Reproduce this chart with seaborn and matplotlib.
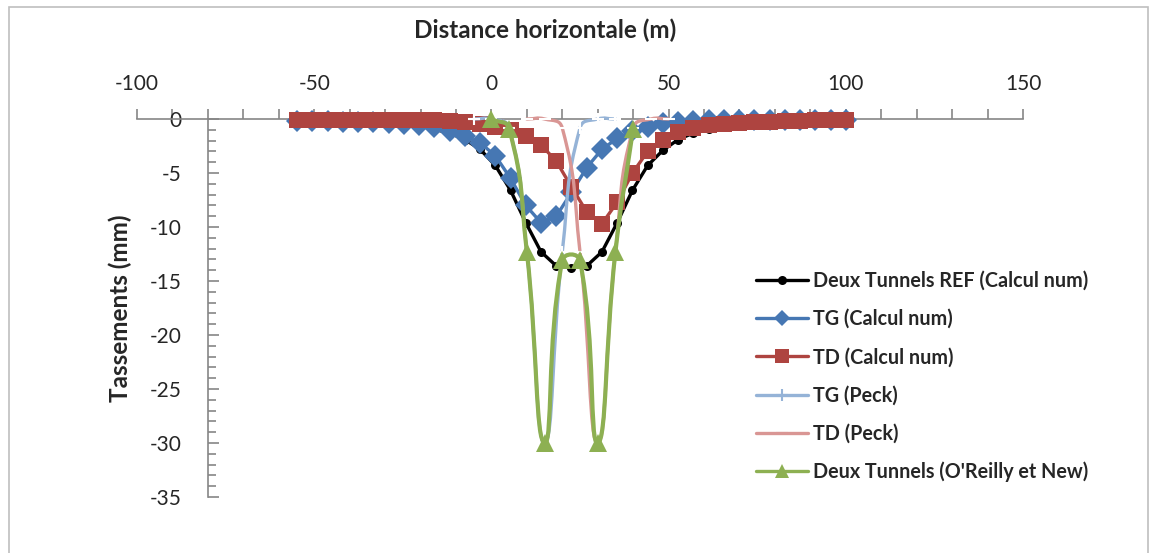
import numpy as np
import matplotlib
matplotlib.use("Agg")
import matplotlib.pyplot as plt
import seaborn as sns
import pandas as pd
from matplotlib.path import Path
from matplotlib.patches import PathPatch, Rectangle
from matplotlib.lines import Line2D
from matplotlib.ticker import MultipleLocator, FuncFormatter

# abscisses du calcul numerique (m)
x_num = [-54.8, -50.5, -46.2, -41.9, -37.6, -33.3, -29.0, -24.7, -20.4, -16.1,
         -11.8, -7.5, -3.2, 1.1, 5.4, 9.7, 14.0, 18.3, 22.6, 26.9,
         31.2, 35.5, 39.8, 44.1, 48.4, 52.7, 57.0, 61.3, 65.6, 69.9,
         74.2, 78.5, 82.8, 87.1, 91.4, 95.7, 100.0]

# tassements (mm)
ref_num = [-0.15, -0.15, -0.2, -0.2, -0.25, -0.3, -0.35, -0.45, -0.65, -0.95,
           -1.3, -1.9, -2.8, -4.3, -6.6, -9.6, -12.3, -13.6, -13.8, -13.6,
           -12.3, -9.6, -6.6, -4.3, -2.9, -1.9, -1.3, -0.9, -0.65, -0.5,
           -0.4, -0.3, -0.25, -0.2, -0.15, -0.15, -0.1]
tg_num = [-0.2, -0.2, -0.2, -0.25, -0.25, -0.3, -0.35, -0.45, -0.55, -0.75,
          -1.1, -1.6, -2.2, -3.4, -5.5, -8.0, -9.6, -9.0, -6.8, -4.5,
          -2.8, -1.8, -1.1, -0.7, -0.4, -0.25, -0.15, -0.1, -0.1, -0.1,
          -0.1, -0.05, -0.05, -0.05, -0.05, -0.05, -0.05]
td_num = [-0.05, -0.05, -0.05, -0.05, -0.05, -0.05, -0.05, -0.1, -0.1, -0.1,
          -0.2, -0.3, -0.5, -0.7, -1.0, -1.6, -2.4, -3.9, -6.3, -8.6,
          -9.7, -7.7, -5.0, -3.0, -1.9, -1.2, -0.8, -0.55, -0.45, -0.35,
          -0.3, -0.25, -0.2, -0.15, -0.1, -0.1, -0.05]

x_tg_peck = [-5, 0, 5, 10, 15, 20, 25, 30, 35]
tg_peck = [0.0, 0.0, -0.84, -12.3, -30.0, -12.3, -0.84, 0.0, 0.0]
x_td_peck = [10, 15, 20, 25, 30, 35, 40, 45, 50]
td_peck = [0.0, 0.0, -0.84, -12.3, -30.0, -12.3, -0.84, 0.0, 0.0]

x_oreilly = [0, 5, 10, 15, 20, 25, 30, 35, 40]
oreilly = [0.0, -0.9, -12.3, -30.0, -13.1, -13.1, -30.0, -12.3, -0.9]

labels = ["Deux Tunnels REF (Calcul num)", "TG (Calcul num)", "TD (Calcul num)",
          "TG (Peck)", "TD (Peck)", "Deux Tunnels (O'Reilly et New)"]

c_black = "#000000"
c_blue = "#4677B3"
c_red = "#AE4440"
c_lblue = "#95B3D7"
c_pink = "#D99694"
c_green = "#8DB052"

sns.set_style("white")
plt.rcParams["font.family"] = ["Lato", "DejaVu Sans"]

fig = plt.figure(figsize=(11.5, 5.53), dpi=100)
W, H = 1150, 553
ax = fig.add_axes([137 / W, 1 - 497 / H, (1023 - 137) / W, (497 - 119) / H])
ax.set_xlim(-100, 150)
ax.set_ylim(-35, 0)

# cadre du graphique
fig.patches.append(Rectangle((9 / W, -0.05), (1148 - 9) / W, 1 - 7 / H + 0.05,
                             transform=fig.transFigure, fill=False,
                             edgecolor="#BFBFBF", lw=1.2))

for s in ["right", "bottom"]:
    ax.spines[s].set_visible(False)
ax.spines["left"].set_position(("data", -80))
for s in ["left", "top"]:
    ax.spines[s].set_color("#868686")
    ax.spines[s].set_linewidth(1.2)

ax.xaxis.tick_top()
ax.xaxis.set_major_locator(MultipleLocator(50))
ax.xaxis.set_minor_locator(MultipleLocator(10))
ax.yaxis.set_major_locator(MultipleLocator(5))
ax.yaxis.set_minor_locator(MultipleLocator(1))
ax.tick_params(axis="x", which="both", direction="out", length=7, width=1.2,
               color="#868686", labelsize=15, pad=11, top=True, bottom=False)
ax.tick_params(axis="y", which="major", direction="in", length=8, width=1.2,
               color="#868686", labelsize=15, pad=19, left=True)
ax.tick_params(axis="y", which="minor", direction="in", length=6, width=1.2,
               color="#868686", left=True)
ax.yaxis.set_major_formatter(FuncFormatter(lambda v, p: f"{v:.0f}"))
ax.xaxis.set_major_formatter(FuncFormatter(lambda v, p: f"{v:.0f}"))

df_num = pd.DataFrame({"x": x_num, "ref": ref_num, "tg": tg_num, "td": td_num})


def smooth_curve(xs, ys, color, lw, t=0.5, z=2):
    P = ax.transData.transform(np.column_stack([xs, ys]))
    n = len(P)
    verts = [P[0]]
    codes = [Path.MOVETO]
    for i in range(n - 1):
        p0 = P[i - 1] if i > 0 else P[i]
        p1, p2 = P[i], P[i + 1]
        p3 = P[i + 2] if i + 2 < n else P[i + 1]
        d01 = np.hypot(*(p1 - p0))
        d12 = np.hypot(*(p2 - p1))
        d23 = np.hypot(*(p3 - p2))
        c1 = p1 + (p2 - p0) * t * d12 / (d01 + d12)
        c2 = p2 - (p3 - p1) * t * d12 / (d12 + d23)
        verts += [c1, c2, p2]
        codes += [Path.CURVE4] * 3
    vd = ax.transData.inverted().transform(np.array(verts))
    ax.add_patch(PathPatch(Path(vd, codes), fill=False, edgecolor=color,
                           lw=lw, clip_on=False, zorder=z, capstyle="round"))


sns.lineplot(data=df_num, x="x", y="ref", ax=ax, color=c_black, lw=2.4,
             marker="o", markersize=6.5, markeredgewidth=0, sort=False,
             clip_on=False, zorder=2)
sns.lineplot(data=df_num, x="x", y="tg", ax=ax, color=c_blue, lw=2.4,
             marker="D", markersize=11, markeredgewidth=0, sort=False,
             clip_on=False, zorder=3)
sns.lineplot(data=df_num, x="x", y="td", ax=ax, color=c_red, lw=2.4,
             marker="s", markersize=11.5, markeredgewidth=0, sort=False,
             clip_on=False, zorder=4)

smooth_curve(x_tg_peck, tg_peck, c_lblue, 2.4, z=5)
sns.lineplot(x=x_tg_peck, y=tg_peck, ax=ax, color=c_lblue, linestyle="none",
             marker="+", markersize=9, markeredgewidth=1.5, clip_on=False, zorder=5)
smooth_curve(x_td_peck, td_peck, c_pink, 2.4, z=6)
sns.lineplot(x=x_td_peck, y=td_peck, ax=ax, color=c_pink, linestyle="none",
             marker="_", markersize=9, markeredgewidth=1.5, clip_on=False, zorder=6)
smooth_curve(x_oreilly, oreilly, c_green, 3.0, z=7)
sns.lineplot(x=x_oreilly, y=oreilly, ax=ax, color=c_green, linestyle="none",
             marker="^", markersize=12.5, markeredgewidth=0, clip_on=False, zorder=7)

ax.set_xlabel("Distance horizontale (m)", fontsize=17.5, fontweight="bold")
ax.xaxis.set_label_position("top")
ax.xaxis.set_label_coords((545 - 137) / 886, 1 + (119 - 30) / 378)
ax.xaxis.label.set_va("center")
ax.set_ylabel("Tassements (mm)", fontsize=17.5, fontweight="bold")
ax.yaxis.set_label_coords((120 - 137) / 886, (497 - 308) / 378)
ax.yaxis.label.set_va("center")

handles = [
    Line2D([], [], color=c_black, lw=2.4, marker="o", markersize=6.5, markeredgewidth=0),
    Line2D([], [], color=c_blue, lw=2.4, marker="D", markersize=8, markeredgewidth=0),
    Line2D([], [], color=c_red, lw=2.4, marker="s", markersize=10, markeredgewidth=0),
    Line2D([], [], color=c_lblue, lw=2.4, marker="+", markersize=9, markeredgewidth=1.5),
    Line2D([], [], color=c_pink, lw=2.4, marker="_", markersize=9, markeredgewidth=1.5),
    Line2D([], [], color=c_green, lw=2.4, marker="^", markersize=10, markeredgewidth=0),
]
fig.legend(handles, labels, loc="upper left", bbox_to_anchor=(756 / W, 1 - 271 / H),
           frameon=False, handlelength=2.65, handletextpad=0.25, labelspacing=0.92,
           prop={"size": 14.2, "weight": "bold"}, borderaxespad=0, borderpad=0)

fig.savefig("out.png", dpi=100)
